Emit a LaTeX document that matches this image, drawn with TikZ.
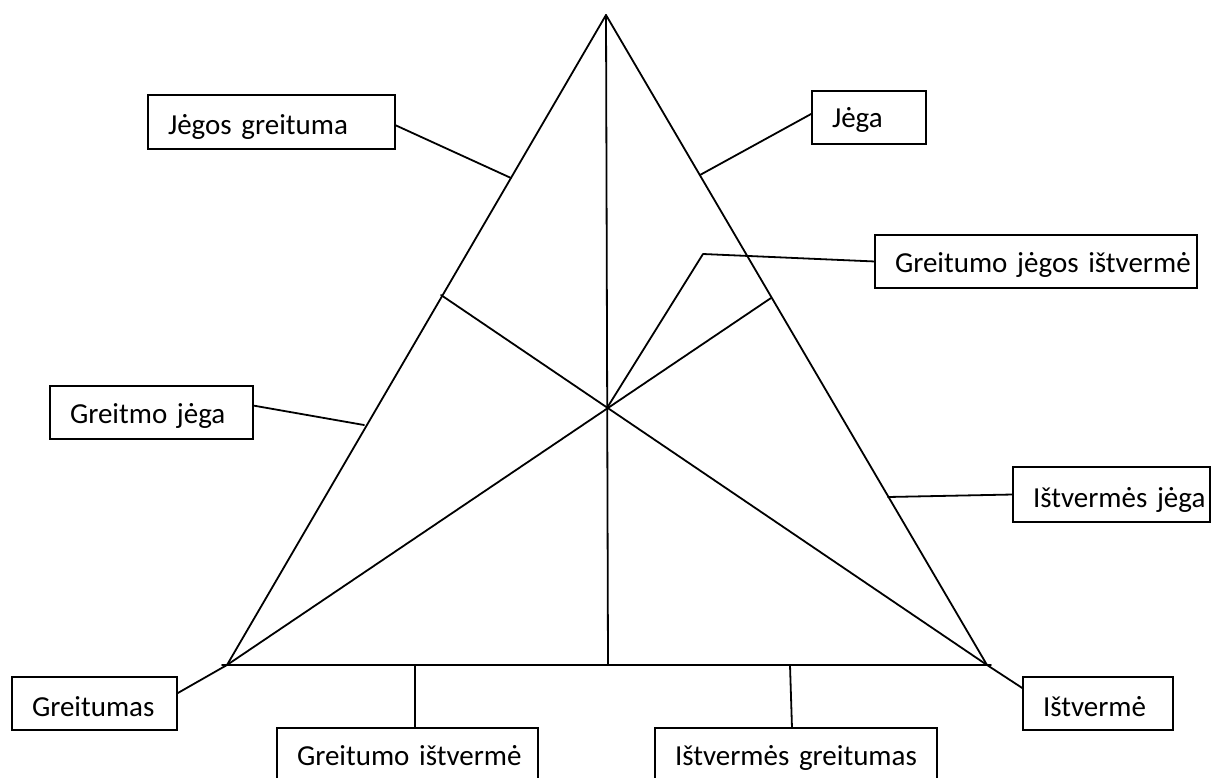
\documentclass[tikz,border=0pt]{standalone}
\usepackage{fontspec}
\setmainfont{Carlito}
\begin{document}
\begin{tikzpicture}[x=1pt,y=-1pt,
  edge/.style={line width=1.8pt, line cap=round, line join=round},
  lbl/.style={draw, line width=1.6pt, anchor=north west, inner xsep=20pt,
    inner ysep=0pt, outer sep=0pt, align=left, font=\fontsize{29}{34}\selectfont}]
\useasboundingbox (0,0) rectangle (1219,778);
\clip (0,0) rectangle (1219,778);

% triangle corners, centre and points on the sides
\coordinate (A) at (606,15);
\coordinate (B) at (227,665);
\coordinate (C) at (987,665);
\coordinate (Bx) at (222,665);
\coordinate (Cx) at (991,665);
\coordinate (F) at (608,665);
\coordinate (O) at (607,408);
\coordinate (P) at (441,295);
\coordinate (Q) at (771,298);
\coordinate (R) at (703,254);
\coordinate (sL1) at (511,178);
\coordinate (sR1) at (700,175);
\coordinate (sL2) at (364,425);
\coordinate (sR2) at (888,497);
\coordinate (bG) at (415,665);
\coordinate (bI) at (790,665);

% labels: text starts 20pt inside the left edge of each box
\node[lbl, text width=207pt, text height=40pt, text depth=14pt] (jg) at (148,95) {\mbox{Jėgos greituma}};
\node[lbl, text width=74pt, text height=37pt, text depth=16pt] (j) at (812,91) {\mbox{Jėga}};
\node[lbl, text width=282pt, text height=38pt, text depth=15pt] (gji) at (875,235) {\mbox{Greitumo jėgos ištvermė}};
\node[lbl, text width=163pt, text height=37pt, text depth=16pt] (gmj) at (50,386) {\mbox{Greitmo jėga}};
\node[lbl, text width=157pt, text height=40pt, text depth=15pt] (ij) at (1013,467) {\mbox{Ištvermės jėga}};
\node[lbl, text width=125pt, text height=39pt, text depth=14pt] (g) at (12,677) {\mbox{Greitumas}};
\node[lbl, text width=110pt, text height=39pt, text depth=14pt] (i) at (1023,677) {\mbox{Ištvermė}};
\node[lbl, text width=221pt, text height=37pt, text depth=35pt] (gi) at (277,728) {\mbox{Greitumo ištvermė}};
\node[lbl, text width=242pt, text height=37pt, text depth=35pt] (ig) at (655,728) {\mbox{Ištvermės greitumas}};

% triangle
\draw[edge] (A) -- (B);
\draw[edge] (A) -- (C);
\draw[edge] (Bx) -- (Cx);
\draw[edge] (A) -- (F);
\draw[edge] (C) -- (P);
\draw[edge] (B) -- (Q);
\draw[edge] (O) -- (R) -- (gji.west);

% connectors to the labels
\draw[edge] ([yshift=-3pt]jg.east) -- (sL1);
\draw[edge] ([yshift=4pt]j.west) -- (sR1);
\draw[edge] ([yshift=7pt]gmj.east) -- (sL2);
\draw[edge] (ij.west) -- (sR2);
\draw[edge] ([yshift=10pt]g.east) -- (B);
\draw[edge] ([yshift=15pt]i.west) -- (C);
\draw[edge] (bG) -- (bG |- gi.north);
\draw[edge] (bI) -- ([xshift=137pt]ig.north west);
\end{tikzpicture}
\end{document}
